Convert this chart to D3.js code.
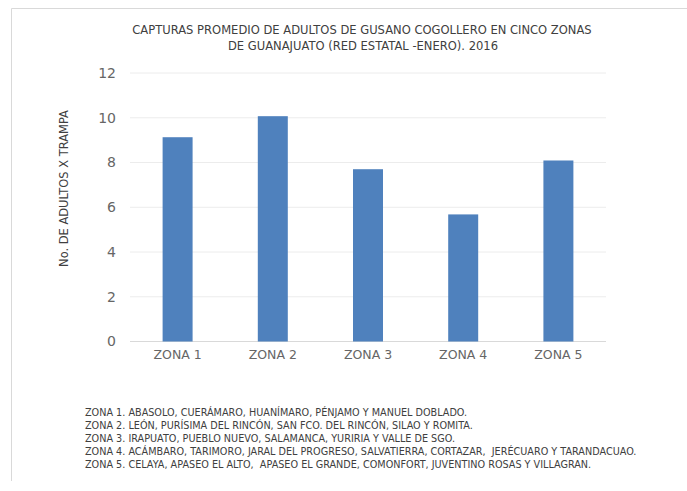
<!DOCTYPE html>
<html><head><meta charset="utf-8">
<script src="https://cdn.jsdelivr.net/npm/d3@7/dist/d3.min.js"></script>
<style>body{margin:0;background:#fff}svg{display:block}text{font-family:"DejaVu Sans",sans-serif}</style>
</head><body>
<script>
const categories = ["ZONA 1","ZONA 2","ZONA 3","ZONA 4","ZONA 5"];
const values = [9.13, 10.07, 7.70, 5.68, 8.09];
const yTicks = [0,2,4,6,8,10,12];
const titleLines = ["CAPTURAS PROMEDIO DE ADULTOS DE GUSANO COGOLLERO EN CINCO ZONAS","DE GUANAJUATO (RED ESTATAL -ENERO). 2016"];
const yLabel = "No. DE ADULTOS X TRAMPA";
const notes = [
 "ZONA 1. ABASOLO, CUERÁMARO, HUANÍMARO, PÉNJAMO Y MANUEL DOBLADO.",
 "ZONA 2. LEÓN, PURÍSIMA DEL RINCÓN, SAN FCO. DEL RINCÓN, SILAO Y ROMITA.",
 "ZONA 3. IRAPUATO, PUEBLO NUEVO, SALAMANCA, YURIRIA Y VALLE DE SGO.",
 "ZONA 4. ACÁMBARO, TARIMORO, JARAL DEL PROGRESO, SALVATIERRA, CORTAZAR,  JERÉCUARO Y TARANDACUAO.",
 "ZONA 5. CELAYA, APASEO EL ALTO,  APASEO EL GRANDE, COMONFORT, JUVENTINO ROSAS Y VILLAGRAN."
];

const W = 687, H = 491;
const svg = d3.select("body").append("svg").attr("width", W).attr("height", H);

// frame
svg.append("path").attr("d","M11.5,481 V8.5 H687").attr("fill","none").attr("stroke","#d9d9d9").attr("stroke-width",1);

const m = {left:130, right:606, top:73, bottom:341.5};
const x = d3.scaleBand().domain(categories).range([m.left, m.right]).paddingInner(0.685).paddingOuter(0.3425);
const y = d3.scaleLinear().domain([0,12]).range([m.bottom, m.top]);

// gridlines
svg.append("g").selectAll("line").data(yTicks).join("line")
  .attr("x1", m.left).attr("x2", m.right)
  .attr("y1", d=>y(d)).attr("y2", d=>y(d))
  .attr("stroke", d=> d===0 ? "#d9d9d9" : "#ececec").attr("stroke-width",1);

// y axis
const yAxis = svg.append("g").attr("transform",`translate(${m.left},0)`)
  .call(d3.axisLeft(y).tickValues(yTicks).tickSize(0).tickPadding(14));
yAxis.select(".domain").remove();
yAxis.selectAll("text").attr("fill","#666").attr("font-size",14).attr("font-family","DejaVu Sans");

// x axis
const xAxis = svg.append("g").attr("transform",`translate(0,${m.bottom})`)
  .call(d3.axisBottom(x).tickSize(0).tickPadding(9));
xAxis.select(".domain").remove();
xAxis.selectAll("text").attr("fill","#666").attr("font-size",12.5).attr("font-family","DejaVu Sans");

// bars
svg.append("g").selectAll("rect").data(values).join("rect")
  .attr("x",(d,i)=>x(categories[i])).attr("width", x.bandwidth())
  .attr("y", d=>y(d)).attr("height", d=>y(0)-y(d))
  .attr("fill","#4f81bd");

function fit(sel, target){ const n = sel.node(); let fs = +sel.attr("font-size"); const w = n.getComputedTextLength(); sel.attr("font-size", fs*target/w); }

// y label
const yl = svg.append("text").attr("transform","translate(68,188.5) rotate(-90)")
  .attr("text-anchor","middle").attr("fill","#404040").attr("font-size",10.5).text(yLabel);
fit(yl, 157);

// title
const t1 = svg.append("text").attr("x",362).attr("y",34).attr("text-anchor","middle").attr("fill","#404040").attr("font-size",11).text(titleLines[0]);
fit(t1, 460);
const t2 = svg.append("text").attr("x",363).attr("y",50).attr("text-anchor","middle").attr("fill","#404040").attr("font-size",+t1.attr("font-size")).text(titleLines[1]);

// notes
const ng = svg.append("g");
const nt = ng.selectAll("text").data(notes).join("text")
  .attr("x",85).attr("y",(d,i)=>416+i*13).attr("fill","#404040").attr("font-size",9).attr("xml:space","preserve").text(d=>d);
const l4 = d3.select(nt.nodes()[3]);
const w4 = l4.node().getComputedTextLength();
nt.attr("font-size", 9*552/w4);
</script>
</body></html>
